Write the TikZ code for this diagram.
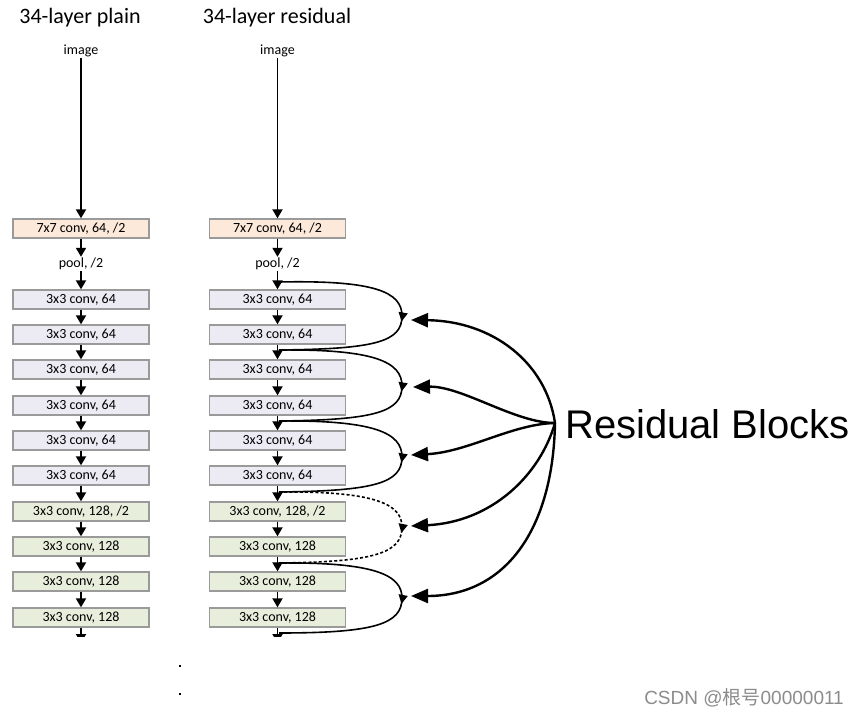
\documentclass[tikz,border=0pt]{standalone}
\usepackage{fontspec}
\setmainfont{Carlito}
\newfontfamily\arialf{Liberation Sans}
\newfontfamily\cjk{Noto Sans CJK SC}
\usetikzlibrary{arrows.meta,decorations.markings}
\definecolor{peach}{HTML}{FCE9DA}
\definecolor{lav}{HTML}{ECEBF4}
\definecolor{grn}{HTML}{E8EEDC}
\definecolor{bord}{HTML}{9A9A9A}
\tikzset{
  layer/.style={draw=bord, line width=1.3pt, minimum width=136pt, minimum height=19pt, inner sep=0pt, font=\fontsize{14}{15}\selectfont},
  conv7/.style={layer, fill=peach},
  conv64/.style={layer, fill=lav},
  conv128/.style={layer, fill=grn},
  lbl/.style={inner sep=1pt, font=\fontsize{14}{15}\selectfont},
  flow/.style={line width=1.8pt, -{Triangle[length=9pt,width=10pt]}},
  skiparc/.style={line width=1.6pt, postaction={decorate}, decoration={markings, mark=at position 0.52 with {\arrow{Triangle[length=9pt,width=9pt]}}}},
  pointer/.style={line width=2.4pt, -{Triangle[length=17pt,width=14pt]}},
}
\begin{document}
\begin{tikzpicture}[x=1pt,y=-1pt]
\useasboundingbox (0,0) rectangle (860,719);
\fill[white] (0,0) rectangle (860,719);
% titles
\node[font=\fontsize{22}{24}\selectfont] (tp) at (80,17.5) {34-layer plain};
\node[font=\fontsize{22}{24}\selectfont] (tr) at (277,17.5) {34-layer residual};
\begin{scope}
\clip (0,0) rectangle (860,636);
% plain column
\node[lbl] (pimg) at (81,51) {image};
\node[conv7] (p1) at (81,228.5) {7x7 conv, 64, /2};
\node[lbl] (ppool) at (81,264) {pool, /2};
\node[conv64] (p2) at (81,299.5) {3x3 conv, 64};
\node[conv64] (p3) at (81,334.5) {3x3 conv, 64};
\node[conv64] (p4) at (81,369.5) {3x3 conv, 64};
\node[conv64] (p5) at (81,405.5) {3x3 conv, 64};
\node[conv64] (p6) at (81,440.5) {3x3 conv, 64};
\node[conv64] (p7) at (81,475.5) {3x3 conv, 64};
\node[conv128] (p8) at (81,511.5) {3x3 conv, 128, /2};
\node[conv128] (p9) at (81,546.5) {3x3 conv, 128};
\node[conv128] (p10) at (81,581.5) {3x3 conv, 128};
\node[conv128] (p11) at (81,617.5) {3x3 conv, 128};
\coordinate (pend) at (81,643);
\draw[flow] (pimg) -- (p1);
\draw[flow] (p1) -- (ppool);
\draw[flow] (ppool) -- (p2);
\foreach \a/\b in {p2/p3,p3/p4,p4/p5,p5/p6,p6/p7,p7/p8,p8/p9,p9/p10,p10/p11,p11/pend}
  \draw[flow] (\a) -- (\b);
% residual column
\node[lbl] (rimg) at (277.5,51) {image};
\node[conv7] (r1) at (277.5,228.5) {7x7 conv, 64, /2};
\node[lbl] (rpool) at (277.5,264) {pool, /2};
\node[conv64] (r2) at (277.5,299.5) {3x3 conv, 64};
\node[conv64] (r3) at (277.5,334.5) {3x3 conv, 64};
\node[conv64] (r4) at (277.5,369.5) {3x3 conv, 64};
\node[conv64] (r5) at (277.5,405.5) {3x3 conv, 64};
\node[conv64] (r6) at (277.5,440.5) {3x3 conv, 64};
\node[conv64] (r7) at (277.5,475.5) {3x3 conv, 64};
\node[conv128] (r8) at (277.5,511.5) {3x3 conv, 128, /2};
\node[conv128] (r9) at (277.5,546.5) {3x3 conv, 128};
\node[conv128] (r10) at (277.5,581.5) {3x3 conv, 128};
\node[conv128] (r11) at (277.5,617.5) {3x3 conv, 128};
\coordinate (rend) at (277.5,643);
\draw[flow] (rimg) -- (r1);
\draw[flow] (r1) -- (rpool);
\draw[flow] (rpool) -- (r2);
\foreach \a/\b in {r2/r3,r3/r4,r4/r5,r5/r6,r6/r7,r7/r8,r8/r9,r9/r10,r10/r11,r11/rend}
  \draw[flow] (\a) -- (\b);
% skip connections
\coordinate (s0) at (279,282);
\coordinate (s1) at (279,350);
\coordinate (s2) at (279,421);
\coordinate (s3) at (279,492);
\coordinate (s4) at (279,563);
\coordinate (s5) at (279,633);
\draw[skiparc] (s0) .. controls (375,280) and (402,292) .. (402,316) .. controls (402,342) and (375,349) .. (s1);
\draw[skiparc] (s1) .. controls (375,349) and (402,362) .. (402,386) .. controls (402,412) and (375,420) .. (s2);
\draw[skiparc] (s2) .. controls (375,420) and (402,433) .. (402,457) .. controls (402,483) and (375,491) .. (s3);
\draw[skiparc, dash pattern=on 3pt off 2.2pt] (s3) .. controls (375,491) and (402,504) .. (402,527) .. controls (402,553) and (375,562) .. (s4);
\draw[skiparc] (s4) .. controls (375,562) and (402,575) .. (402,598) .. controls (402,624) and (375,633) .. (s5);
\end{scope}
% label and pointers
\node[font=\arialf\fontsize{40}{42}\selectfont, anchor=west, inner sep=0pt] (rb) at (565,424) {Residual Blocks};
\coordinate (o) at (555,423);
\coordinate (t1) at (411,320);
\coordinate (t2) at (413,387);
\coordinate (t3) at (411,455);
\coordinate (t4) at (411,526);
\coordinate (t5) at (411,596);
\draw[pointer] (o) .. controls (546,362) and (492,321) .. (t1);
\draw[pointer] (o) .. controls (515,423) and (462,386) .. (t2);
\draw[pointer] (o) .. controls (512,424) and (468,452) .. (t3);
\draw[pointer] (o) .. controls (540,475) and (492,522) .. (t4);
\draw[pointer] (o) .. controls (553,530) and (505,596) .. (t5);
% dots
\node[fill=black, inner sep=0pt, minimum size=2.6pt] (d1) at (180,666) {};
\node[fill=black, inner sep=0pt, minimum size=2.6pt] (d2) at (180,694) {};
% watermark
\node[text=black!45, font=\arialf\fontsize{19}{20}\selectfont, anchor=east, inner sep=0pt] (wm) at (844,698) {CSDN @{\cjk 根号}00000011};
\end{tikzpicture}
\end{document}
